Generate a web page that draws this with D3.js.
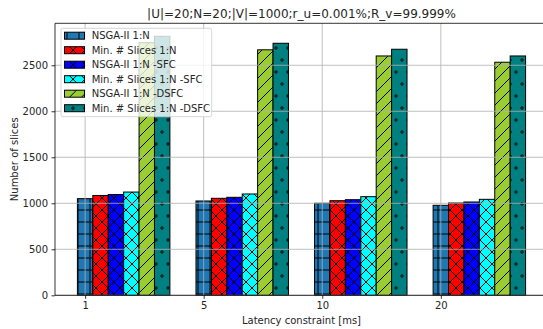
<!DOCTYPE html>
<html>
<head>
<meta charset="utf-8">
<script src="https://cdn.jsdelivr.net/npm/d3@7"></script>
<style>
  body { margin: 0; background: #fff; }
  svg { display: block; font-family: "DejaVu Sans", sans-serif; }
</style>
</head>
<body>
<svg id="chart" width="543" height="329"></svg>
<script>
// data
const categories = ["1", "5", "10", "20"]
const seriesNames = ["NSGA-II 1:N", "Min. # Slices 1:N", "NSGA-II 1:N -SFC",
                     "Min. # Slices 1:N -SFC", "NSGA-II 1:N -DSFC", "Min. # Slices 1:N -DSFC"]
const nsga      = [1050, 1025, 1000, 978]
const minSlices = [1085, 1054, 1028, 1003]
const nsgaSfc   = [1095, 1065, 1039, 1014]
const minSfc    = [1122, 1101, 1072, 1043]
const nsgaDsfc  = [2745, 2668, 2601, 2533]
const minDsfc   = [2815, 2739, 2674, 2601]
const yTicks = [0, 500, 1000, 1500, 2000, 2500]

const seriesValues = [nsga, minSlices, nsgaSfc, minSfc, nsgaDsfc, minDsfc]
const colors = ["#1f77b4", "#ff0000", "#0000ff", "#00ffff", "#9acd32", "#008080"]
const hatches = ["+", "x", "x", "x", "/", "o"]

const barW = 0.13
const mLeft = 55, mRight = 548, mTop = 23.3, mBottom = 295.3

const svg = d3.select("#chart")

let x = d3.scaleLinear()
    .domain([-0.254, 3.904])
    .range([mLeft, mRight])

let y = d3.scaleLinear()
    .domain([0, 2956])
    .range([mBottom, mTop])

// hatch patterns
let defs = svg.append("defs")
hatches.forEach((h, i) => {
  let tall = h === "o" ? 24 : 12
  let p = defs.append("pattern")
      .attr("id", "hatch" + i)
      .attr("patternUnits", "userSpaceOnUse")
      .attr("width", 12)
      .attr("height", tall)
  p.append("rect").attr("width", 12).attr("height", tall).attr("fill", colors[i])
  let stroke = g => g.attr("stroke", "#000").attr("stroke-width", 1).attr("fill", "none")
  if (h === "+") {
    p.append("path").attr("d", "M0,6H12M6,0V12").call(stroke)
  } else if (h === "x") {
    p.append("path").attr("d", "M-6,6L6,18M0,0L12,12M6,-6L18,6M-6,6L6,-6M0,12L12,0M6,18L18,6").call(stroke)
  } else if (h === "/") {
    p.append("path").attr("d", "M-6,6L6,-6M0,12L12,0M6,18L18,6").call(stroke)
  } else if (h === "o") {
    [[0, 0], [12, 0], [6, 12], [0, 24], [12, 24]].forEach(c => {
      p.append("circle").attr("cx", c[0]).attr("cy", c[1]).attr("r", 1.2).call(stroke)
    })
  }
})

// bars
seriesValues.forEach((vals, s) => {
  svg.append("g")
    .selectAll("rect")
    .data(vals)
    .enter().append("rect")
      .attr("x", (d, i) => x(i + s * barW - barW / 2))
      .attr("width", x(barW) - x(0))
      .attr("y", d => y(d))
      .attr("height", d => y(0) - y(d))
      .attr("fill", "url(#hatch" + s + ")")
      .attr("stroke", "#000")
      .attr("stroke-width", 1)
})

// grid above bars (matplotlib default zorder)
let grid = svg.append("g").attr("stroke", "#b0b0b0").attr("stroke-width", 0.8)
grid.selectAll(".gy").data(yTicks).enter().append("line")
    .attr("x1", mLeft).attr("x2", mRight)
    .attr("y1", d => y(d)).attr("y2", d => y(d))
grid.selectAll(".gx").data(categories).enter().append("line")
    .attr("x1", (d, i) => x(i)).attr("x2", (d, i) => x(i))
    .attr("y1", mTop).attr("y2", mBottom)

// axes
svg.append("g")
    .attr("transform", `translate(0,${mBottom})`)
    .call(d3.axisBottom(x).tickValues([0, 1, 2, 3]).tickFormat(i => categories[i]).tickSize(3.5).tickPadding(3.5))
    .call(g => g.select(".domain").remove())
svg.append("g")
    .attr("transform", `translate(${mLeft},0)`)
    .call(d3.axisLeft(y).tickValues(yTicks).tickFormat(d3.format("d")).tickSize(3.5).tickPadding(3.5))
    .call(g => g.select(".domain").remove())
svg.selectAll(".tick text").attr("font-size", 10).attr("font-family", "DejaVu Sans").attr("fill", "#262626")
svg.selectAll(".tick line").attr("stroke", "#000").attr("stroke-width", 0.8)

// spines
let sp = svg.append("g").attr("stroke", "#000").attr("stroke-width", 0.8)
sp.append("line").attr("x1", mLeft).attr("x2", mLeft).attr("y1", mTop).attr("y2", mBottom)
sp.append("line").attr("x1", mLeft).attr("x2", mRight).attr("y1", mTop).attr("y2", mTop)
sp.append("line").attr("x1", mLeft).attr("x2", mRight).attr("y1", mBottom).attr("y2", mBottom)

// labels
svg.append("text")
    .attr("x", (mLeft + mRight) / 2).attr("y", 17.5)
    .attr("text-anchor", "middle").attr("font-size", 12).attr("fill", "#262626")
    .text("|U|=20;N=20;|V|=1000;r_u=0.001%;R_v=99.999%")
svg.append("text")
    .attr("x", (mLeft + mRight) / 2).attr("y", 324)
    .attr("text-anchor", "middle").attr("font-size", 10).attr("fill", "#262626")
    .text("Latency constraint [ms]")
svg.append("text")
    .attr("transform", `translate(18,${(mTop + mBottom) / 2}) rotate(-90)`)
    .attr("text-anchor", "middle").attr("font-size", 10).attr("fill", "#262626")
    .text("Number of slices")

// legend
let lg = svg.append("g").attr("transform", "translate(61,28.3)")
lg.append("rect")
    .attr("width", 150.7).attr("height", 88.4).attr("rx", 2)
    .attr("fill", "#fff").attr("fill-opacity", 0.8)
    .attr("stroke", "#cccccc").attr("stroke-width", 0.8)
seriesNames.forEach((name, i) => {
  let row = lg.append("g").attr("transform", `translate(0,${7.4 + i * 14.5})`)
  row.append("rect")
      .attr("x", 3.5).attr("y", -3.5).attr("width", 20).attr("height", 7)
      .attr("fill", "url(#hatch" + i + ")").attr("stroke", "#000").attr("stroke-width", 1)
  row.append("text")
      .attr("x", 30.7).attr("y", 3.6)
      .attr("font-size", 10).attr("fill", "#262626")
      .text(name)
})
</script>
</body>
</html>
